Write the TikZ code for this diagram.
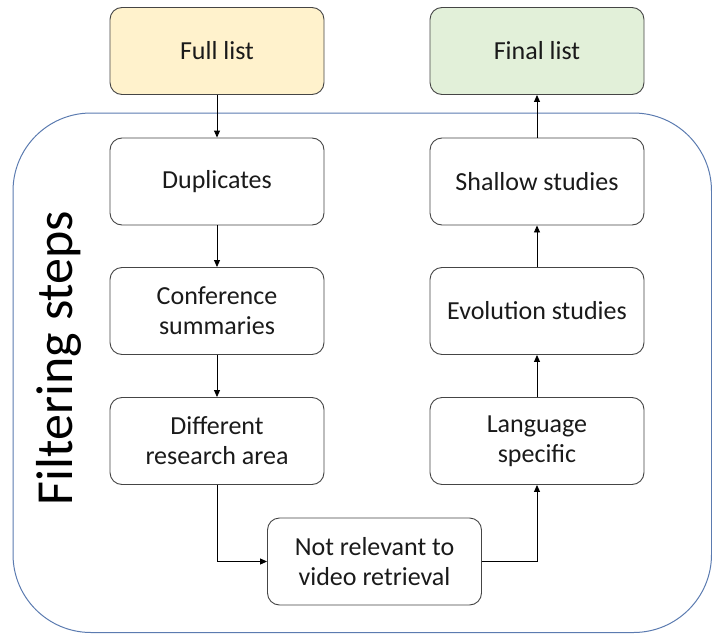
\documentclass[tikz,border=0pt]{standalone}
\usepackage{fontspec}
\setmainfont{Carlito}
\usetikzlibrary{arrows.meta}
\definecolor{boxline}{HTML}{454545}
\definecolor{frameblue}{HTML}{5B7BB0}
\definecolor{startfill}{HTML}{FFF2CC}
\definecolor{endfill}{HTML}{E2F0D9}
\definecolor{textgray}{HTML}{1A1A1A}
\begin{document}
\begin{tikzpicture}[x=1pt,y=-1pt,
  stepbox/.style={draw=boxline, line width=0.9pt, fill=white, rounded corners=12pt,
    minimum width=214pt, minimum height=87pt, align=center, text=textgray,
    font=\fontsize{26}{30}\selectfont, inner sep=2pt},
  arr/.style={draw=black, line width=0.9pt, -{Triangle[length=7pt,width=6pt]}}]
\useasboundingbox (0,0) rectangle (712,634);

% frame around the filtering stages
\draw[frameblue, line width=1pt, rounded corners=78pt] (13,113) rectangle (711.5,632.5);
\node[rotate=90, inner sep=0pt, text=black, font=\fontsize{52}{60}\selectfont] (title) at (59,358) {Filtering steps};

% start and end lists
\node[stepbox, fill=startfill] (full) at (217,51) {Full list};
\node[stepbox, fill=endfill] (final) at (537,51) {Final list};

% left column
\node[stepbox] (dup) at (217,181.5) {Duplicates};
\node[stepbox] (conf) at (217,311) {Conference\\summaries};
\node[stepbox] (diff) at (217,441) {Different\\research area};

% bottom step
\node[stepbox] (notrel) at (374.5,561.5) {Not relevant to\\video retrieval};

% right column
\node[stepbox] (lang) at (537,441) {Language\\specific};
\node[stepbox] (evo) at (537,311) {Evolution studies};
\node[stepbox] (shallow) at (537,181.5) {Shallow studies};

% connectors
\draw[arr] (full) -- (dup);
\draw[arr] (dup) -- (conf);
\draw[arr] (conf) -- (diff);
\draw[arr] (diff.south) |- (notrel.west);
\draw[arr] (notrel.east) -| (lang.south);
\draw[arr] (lang) -- (evo);
\draw[arr] (evo) -- (shallow);
\draw[arr] (shallow) -- (final);
\end{tikzpicture}
\end{document}
